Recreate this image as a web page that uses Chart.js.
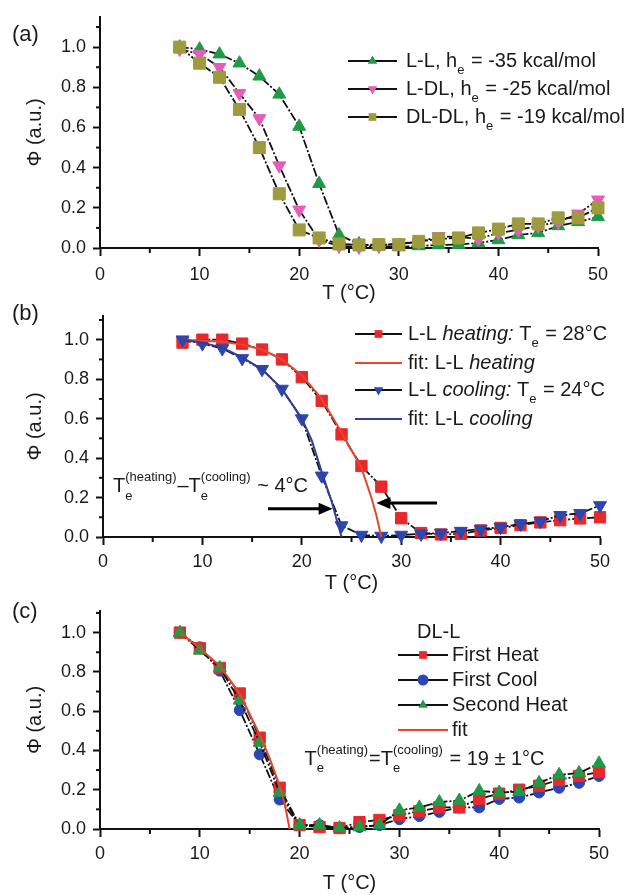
<!DOCTYPE html>
<html>
<head>
<meta charset="utf-8">
<script src="https://cdn.jsdelivr.net/npm/chart.js@4.4.1/dist/chart.umd.min.js"></script>
<style>
  body { margin: 0; background: #fff; }
  .panel { position: absolute; left: 0; }
</style>
</head>
<body>
<div class="panel" style="top:0"><canvas id="chartA" width="630" height="305"></canvas></div>
<div class="panel" style="top:300px"><canvas id="chartB" width="630" height="295"></canvas></div>
<div class="panel" style="top:595px"><canvas id="chartC" width="630" height="300"></canvas></div>
<script>
const FONT = "'Liberation Sans', Arial, sans-serif";
const INK = "#1a1a1a";

// temperatures (°C) shared by all measured series
const temps = [8, 10, 12, 14, 16, 18, 20, 22, 24, 26, 28, 30, 32, 34, 36, 38, 40, 42, 44, 46, 48, 50];

// (a) order parameter for the three pairs
const phiLL   = [1.00, 0.99, 0.965, 0.92, 0.855, 0.765, 0.605, 0.32, 0.065, 0.02, 0.01, 0.005, 0.01, 0.015, 0.017, 0.025, 0.04, 0.065, 0.075, 0.11, 0.13, 0.155];
const phiLDL  = [0.99, 0.965, 0.90, 0.77, 0.645, 0.41, 0.19, 0.04, 0.01, 0.005, 0.01, 0.025, 0.028, 0.058, 0.055, 0.045, 0.075, 0.09, 0.11, 0.13, 0.17, 0.24];
const phiDLDL = [1.00, 0.92, 0.85, 0.69, 0.50, 0.27, 0.09, 0.05, 0.02, 0.015, 0.017, 0.017, 0.033, 0.045, 0.05, 0.075, 0.094, 0.12, 0.12, 0.15, 0.15, 0.20];

// (b) L-L heating / cooling and their fits
const phiHeat = [0.985, 1.00, 1.00, 0.98, 0.95, 0.90, 0.81, 0.69, 0.52, 0.36, 0.255, 0.095, 0.02, 0.013, 0.016, 0.033, 0.046, 0.06, 0.074, 0.085, 0.094, 0.10];
const phiCool = [1.00, 0.98, 0.955, 0.905, 0.85, 0.75, 0.60, 0.31, 0.058, 0.01, 0.005, 0.01, 0.016, 0.02, 0.03, 0.04, 0.05, 0.066, 0.08, 0.11, 0.12, 0.16];
const fitHeatT = [8, 10, 12, 14, 16, 18, 20, 22, 24, 25, 26, 27, 27.5, 28];
const fitHeatY = [1.00, 0.995, 0.99, 0.975, 0.95, 0.90, 0.82, 0.70, 0.53, 0.44, 0.35, 0.20, 0.11, 0.0];
const fitCoolT = [8, 10, 12, 14, 16, 18, 20, 21, 22, 23, 24];
const fitCoolY = [1.00, 0.985, 0.96, 0.91, 0.85, 0.75, 0.60, 0.49, 0.33, 0.18, 0.0];

// (c) DL-L cycles and fit
const phiHeat1 = [1.00, 0.92, 0.82, 0.69, 0.465, 0.21, 0.02, 0.01, 0.005, 0.035, 0.046, 0.07, 0.09, 0.11, 0.11, 0.153, 0.18, 0.20, 0.22, 0.25, 0.27, 0.29];
const phiCool1 = [1.00, 0.925, 0.806, 0.605, 0.38, 0.15, 0.02, 0.02, 0.005, 0.01, 0.02, 0.05, 0.066, 0.087, 0.11, 0.11, 0.153, 0.16, 0.186, 0.21, 0.235, 0.27];
const phiHeat2 = [1.00, 0.91, 0.82, 0.655, 0.44, 0.185, 0.02, 0.02, 0.005, 0.01, 0.02, 0.095, 0.11, 0.137, 0.145, 0.194, 0.186, 0.19, 0.235, 0.276, 0.285, 0.334];
const fitDLT = [8, 10, 12, 14, 16, 17, 18, 18.5, 19];
const fitDLY = [1.00, 0.92, 0.83, 0.69, 0.48, 0.36, 0.22, 0.13, 0.0];

// axis ticks
const minorX = [5, 15, 25, 35, 45];
const minorY = [0.1, 0.3, 0.5, 0.7, 0.9, 1.1];

const GREEN = "#1f9a48", PINK = "#e65cb9", OLIVE = "#9d9b3e";
const RED = "#e8282b", BLUE = "#2b47b2", RED_FIT = "#e4472f", BLUE_FIT = "#2f3f9a";

const pts = (xs, ys) => xs.map((x, i) => ({ x: x, y: ys[i] }));

function dataSet(ys, color, style, r, rot, order) {
  return {
    data: pts(temps, ys), borderColor: "#111", borderWidth: 1.8, borderDash: [9, 2, 2, 2],
    pointStyle: style, pointRadius: r, pointRotation: rot || 0,
    pointBackgroundColor: color, pointBorderColor: color, pointBorderWidth: 1,
    clip: false, order: order
  };
}
function fitSet(xs, ys, color, order) {
  return {
    data: pts(xs, ys), borderColor: color, borderWidth: 2, pointRadius: 0,
    clip: false, order: order
  };
}

// small rich-text painter: plain / italic runs and stacked sub+sup
function rich(ctx, x, y, parts, size) {
  let cx = x;
  ctx.fillStyle = INK;
  ctx.textBaseline = "middle";
  ctx.textAlign = "left";
  for (const p of parts) {
    if (typeof p === "string" || p.it) {
      const s = typeof p === "string" ? p : p.it;
      ctx.font = (p.it ? "italic " : "") + size + "px " + FONT;
      ctx.fillText(s, cx, y);
      cx += ctx.measureText(s).width;
    } else {
      const small = Math.round(size * 0.66);
      ctx.font = small + "px " + FONT;
      let w = 0;
      if (p.sub) { ctx.fillText(p.sub, cx, y + size * 0.48); w = Math.max(w, ctx.measureText(p.sub).width); }
      if (p.sup) { ctx.fillText(p.sup, cx, y - size * 0.45); w = Math.max(w, ctx.measureText(p.sup).width); }
      cx += w + 1;
    }
  }
}

function marker(ctx, style, color, x, y, r, rot) {
  ctx.save();
  ctx.fillStyle = color;
  ctx.translate(x, y);
  ctx.rotate((rot || 0) * Math.PI / 180);
  ctx.beginPath();
  if (style === "rect") ctx.rect(-r * 0.7, -r * 0.7, r * 1.4, r * 1.4);
  else if (style === "circle") ctx.arc(0, 0, r, 0, Math.PI * 2);
  else { ctx.moveTo(0, -r); ctx.lineTo(r * 0.866, r * 0.5); ctx.lineTo(-r * 0.866, r * 0.5); ctx.closePath(); }
  ctx.fill();
  ctx.restore();
}

function arrow(ctx, x1, y1, x2, y2) {
  const dir = Math.sign(x2 - x1);
  ctx.strokeStyle = "#000"; ctx.fillStyle = "#000"; ctx.lineWidth = 3;
  ctx.beginPath(); ctx.moveTo(x1, y1); ctx.lineTo(x2 - dir * 10, y2); ctx.stroke();
  ctx.beginPath(); ctx.moveTo(x2, y2); ctx.lineTo(x2 - dir * 14, y2 - 6); ctx.lineTo(x2 - dir * 14, y2 + 6); ctx.closePath(); ctx.fill();
}

const decor = {
  id: "decor",
  afterDraw(chart, args, o) {
    const ctx = chart.ctx, xs = chart.scales.x, ys = chart.scales.y;
    const a = chart.chartArea;
    ctx.save();
    // minor ticks
    ctx.strokeStyle = "#111"; ctx.lineWidth = 2;
    for (const v of minorX) {
      const px = xs.getPixelForValue(v);
      ctx.beginPath(); ctx.moveTo(px, a.bottom); ctx.lineTo(px, a.bottom + 5); ctx.stroke();
    }
    for (const v of minorY) {
      if (v > ys.max) continue;
      const py = ys.getPixelForValue(v);
      ctx.beginPath(); ctx.moveTo(a.left, py); ctx.lineTo(a.left - 4, py); ctx.stroke();
    }
    // panel letter
    ctx.fillStyle = INK; ctx.font = "22px " + FONT; ctx.textBaseline = "middle"; ctx.textAlign = "left";
    ctx.fillText(o.label, o.labelX, o.labelY);
    // legend
    const L = o.legend;
    if (L.heading) rich(ctx, L.heading[0], L.heading[1], [L.heading[2]], 20);
    for (const row of L.rows) {
      ctx.strokeStyle = row.line; ctx.lineWidth = 2; ctx.setLineDash([]);
      ctx.beginPath(); ctx.moveTo(L.x1, row.y); ctx.lineTo(L.x2, row.y); ctx.stroke();
      if (row.mk) marker(ctx, row.mk, row.color, (L.x1 + L.x2) / 2, row.y, 5.5, row.rot);
      rich(ctx, L.tx, row.y, row.text, 20);
    }
    // notes and arrows, placed in data coordinates
    for (const n of o.notes || []) {
      rich(ctx, xs.getPixelForValue(n.x), ys.getPixelForValue(n.y), n.text, 20);
    }
    for (const ar of o.arrows || []) {
      arrow(ctx, xs.getPixelForValue(ar[0]), ys.getPixelForValue(ar[2]), xs.getPixelForValue(ar[1]), ys.getPixelForValue(ar[2]));
    }
    ctx.restore();
  }
};

function options(g, decorOpts) {
  const tickFont = { family: FONT, size: 18, lineHeight: 1 };
  const titleFont = { family: FONT, size: 20 };
  return {
    responsive: false,
    animation: false,
    layout: { padding: { left: 0, right: 630 - g.right, top: g.top, bottom: 0 } },
    plugins: { legend: { display: false }, tooltip: { enabled: false }, decor: decorOpts },
    scales: {
      x: {
        type: "linear", min: 0, max: 50,
        afterFit: s => { s.height = g.xh; },
        border: { display: true, color: "#111", width: 2 },
        grid: { display: true, drawOnChartArea: false, drawTicks: true, tickLength: 8, tickWidth: 2, tickColor: "#111" },
        ticks: { stepSize: 10, color: INK, font: tickFont, padding: g.xpad, maxRotation: 0 },
        title: { display: true, text: "T (°C)", color: INK, font: titleFont, padding: { top: 0, bottom: 0 } }
      },
      y: {
        min: 0, max: g.ymax,
        afterFit: s => { s.width = g.left; },
        border: { display: true, color: "#111", width: 2 },
        grid: { display: true, drawOnChartArea: false, drawTicks: true, tickLength: 7, tickWidth: 2, tickColor: "#111" },
        ticks: { stepSize: 0.2, includeBounds: false, color: INK, font: tickFont, padding: 7, callback: v => v.toFixed(1) },
        title: { display: true, text: "Φ (a.u.)", color: INK, font: titleFont, padding: { top: 23, bottom: 0 } }
      }
    }
  };
}

new Chart(document.getElementById("chartA"), {
  type: "line",
  data: {
    datasets: [
      dataSet(phiDLDL, OLIVE, "rect", 8.5, 0, 1),
      dataSet(phiLDL, PINK, "triangle", 7.5, 180, 2),
      dataSet(phiLL, GREEN, "triangle", 7.5, 0, 3)
    ]
  },
  options: options({ left: 100, right: 598, top: 17, xh: 57, ymax: 1.15, xpad: 10 }, {
    label: "(a)", labelX: 12, labelY: 35,
    legend: {
      x1: 348, x2: 397, tx: 406,
      rows: [
        { y: 61, line: "#111", mk: "triangle", color: GREEN, text: ["L-L, h", { sub: "e" }, " = -35 kcal/mol"] },
        { y: 89, line: "#111", mk: "triangle", rot: 180, color: PINK, text: ["L-DL, h", { sub: "e" }, " = -25 kcal/mol"] },
        { y: 117, line: "#111", mk: "rect", color: OLIVE, text: ["DL-DL, h", { sub: "e" }, " = -19 kcal/mol"] }
      ]
    }
  }),
  plugins: [decor]
});

new Chart(document.getElementById("chartB"), {
  type: "line",
  data: {
    datasets: [
      fitSet(fitCoolT, fitCoolY, BLUE_FIT, 0),
      fitSet(fitHeatT, fitHeatY, RED_FIT, 1),
      dataSet(phiCool, BLUE, "triangle", 7.5, 180, 2),
      dataSet(phiHeat, RED, "rect", 8, 0, 3)
    ]
  },
  options: options({ left: 103, right: 600, top: 10, xh: 58, ymax: 1.12, xpad: 8 }, {
    label: "(b)", labelX: 12, labelY: 14,
    legend: {
      x1: 355, x2: 402, tx: 408,
      rows: [
        { y: 34, line: "#111", mk: "rect", color: RED, text: ["L-L ", { it: "heating:" }, " T", { sub: "e" }, " = 28°C"] },
        { y: 63, line: RED_FIT, text: ["fit: L-L ", { it: "heating" }] },
        { y: 90, line: "#111", mk: "triangle", rot: 180, color: BLUE, text: ["L-L ", { it: "cooling:" }, " T", { sub: "e" }, " = 24°C"] },
        { y: 119, line: BLUE_FIT, text: ["fit: L-L ", { it: "cooling" }] }
      ]
    },
    notes: [
      { x: 1.0, y: 0.254, text: ["T", { sub: "e", sup: "(heating)" }, "–T", { sub: "e", sup: "(cooling)" }, " ~ 4°C"] }
    ],
    arrows: [[16.6, 23.1, 0.143], [33.6, 27.5, 0.172]]
  }),
  plugins: [decor]
});

new Chart(document.getElementById("chartC"), {
  type: "line",
  data: {
    datasets: [
      fitSet(fitDLT, fitDLY, RED_FIT, 0),
      dataSet(phiHeat2, GREEN, "triangle", 7.5, 0, 1),
      dataSet(phiHeat1, RED, "rect", 8, 0, 2),
      dataSet(phiCool1, BLUE, "circle", 5.5, 0, 3)
    ]
  },
  options: options({ left: 100, right: 599, top: 10, xh: 66, ymax: 1.11, xpad: 8 }, {
    label: "(c)", labelX: 12, labelY: 17,
    legend: {
      x1: 398, x2: 448, tx: 452,
      heading: [417, 37, "DL-L"],
      rows: [
        { y: 60, line: "#111", mk: "rect", color: RED, text: ["First Heat"] },
        { y: 85, line: "#111", mk: "circle", color: BLUE, text: ["First Cool"] },
        { y: 110, line: "#111", mk: "triangle", color: GREEN, text: ["Second Heat"] },
        { y: 135, line: RED_FIT, text: ["fit"] }
      ]
    },
    notes: [
      { x: 20.5, y: 0.356, text: ["T", { sub: "e", sup: "(heating)" }, "=T", { sub: "e", sup: "(cooling)" }, " = 19 ± 1°C"] }
    ]
  }),
  plugins: [decor]
});
</script>
</body>
</html>
